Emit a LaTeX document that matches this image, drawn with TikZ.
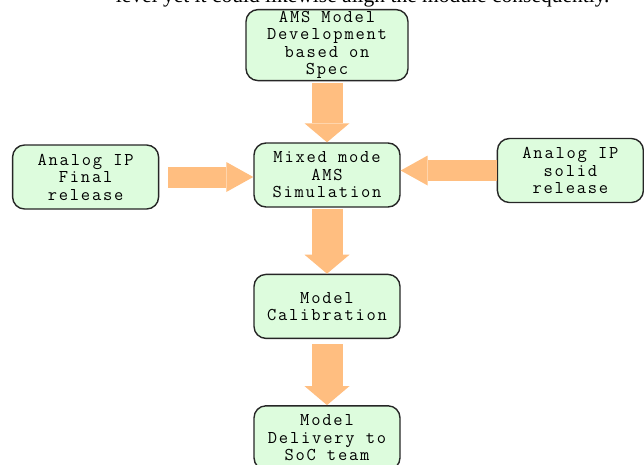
\documentclass[tikz,border=0pt]{standalone}
\usepackage{fontspec}
\newfontfamily\bodyfont{Liberation Serif}
\newfontfamily\boxfont{Latin Modern Mono}[LetterSpace=10]
\usepackage{xcolor}
\usepackage{tikz}
\usetikzlibrary{arrows.meta,positioning}
\definecolor{boxgreen}{RGB}{221,252,221}
\definecolor{flowor}{RGB}{255,190,128}

\begin{document}
\begin{tikzpicture}[
  blk/.style={draw=black!85, line width=1.4pt, rounded corners=12pt, fill=boxgreen, align=center,
    minimum width=146pt, minimum height=64pt, inner sep=1pt,
    font=\boxfont\fontsize{18}{17.5}\selectfont},
  vflow/.style={draw=flowor, line width=31pt, -{Triangle[width=45pt, length=19pt, line width=0pt]}},
  hflow/.style={draw=flowor, line width=21pt, -{Triangle[width=30pt, length=27pt, line width=0pt]}}
]
\useasboundingbox (0pt,0pt) rectangle (644pt,-464pt);
\clip (0pt,0pt) rectangle (644pt,-464pt);

\node[anchor=base east, font=\bodyfont\fontsize{21.5}{24}\selectfont] (line) at (613pt,-2pt)
  {level yet it could likewise align the module consequently.};

\node[blk] (sim) at (327pt,-175pt) {Mixed mode\\AMS\\Simulation};
\node[blk, above=61pt of sim, minimum width=162pt, minimum height=71pt] (spec) {AMS Model\\Development\\based on\\Spec};
\node[blk, left=94pt of sim, yshift=-2pt] (final) {Analog IP\\Final\\release};
\node[blk, right=96pt of sim, yshift=4.5pt] (solid) {Analog IP\\solid\\release};
\node[blk, below=66pt of sim] (calib) {Model\\Calibration};
\node[blk, below=66pt of calib] (deliver) {Model\\Delivery to\\SoC team};

\draw[vflow, shorten <=2pt] (spec) -- (sim);
\draw[hflow, shorten <=9pt] (final) -- (sim.west |- final);
\draw[hflow] (solid) -- (sim.east |- solid);
\draw[vflow, shorten <=1pt] (sim) -- (calib);
\draw[vflow, shorten <=5pt] (calib) -- (deliver);
\end{tikzpicture}
\end{document}
